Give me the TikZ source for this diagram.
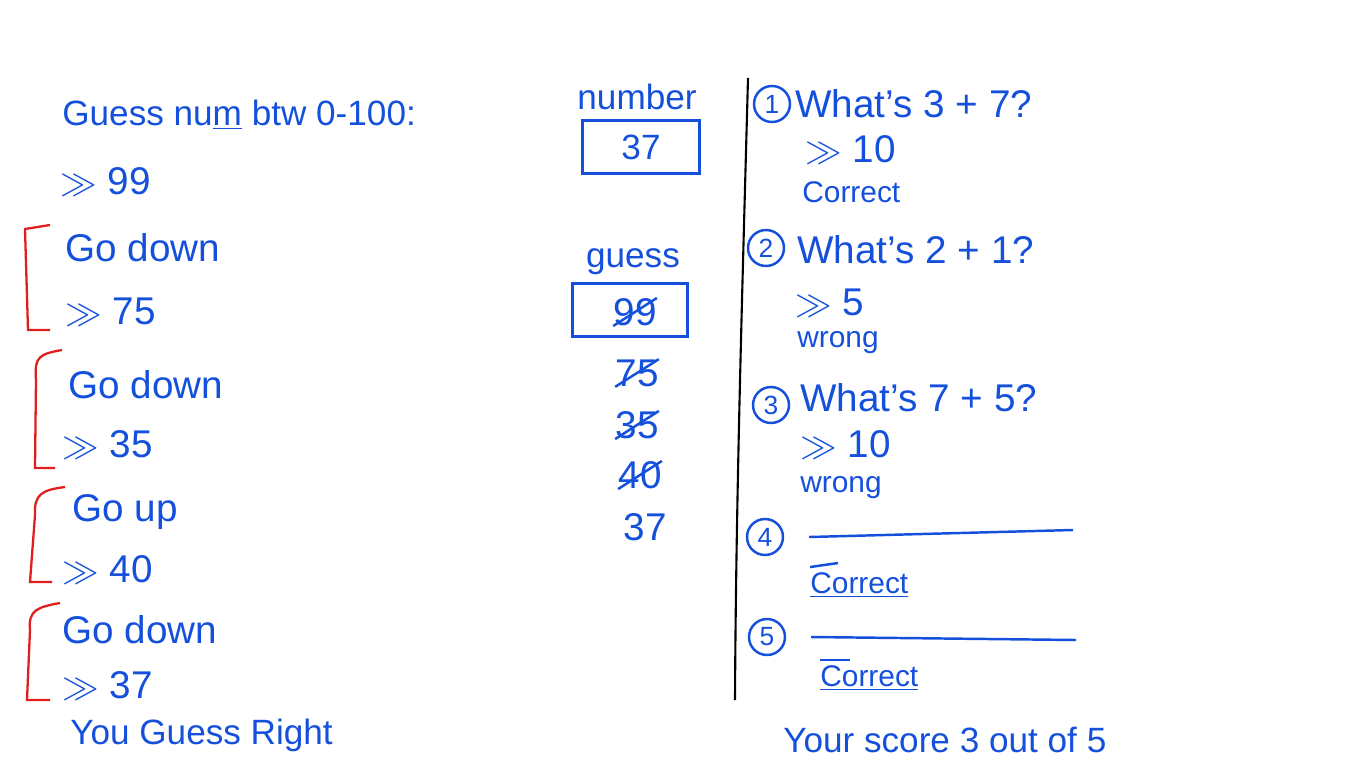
\documentclass[tikz,border=0pt]{standalone}
\usepackage{fontspec}
\setmainfont{Liberation Sans}
\definecolor{pen}{RGB}{20,80,220}
\definecolor{redpen}{RGB}{225,30,30}

\begin{document}
\begin{tikzpicture}[x=0.02cm, y=-0.02cm, txt/.style={text=pen, font=\fontsize{20}{24}\selectfont, anchor=west, inner sep=0pt}, big/.style={txt, font=\fontsize{22}{26}\selectfont}, small/.style={txt, font=\fontsize{17}{20}\selectfont}, box/.style={draw=pen, line width=1.6pt, text=pen, font=\fontsize{20}{24}\selectfont, minimum width=2.34cm, minimum height=1.06cm}, num/.style={draw=pen, circle, line width=1.4pt, text=pen, minimum size=0.72cm, inner sep=0pt, font=\fontsize{15}{17}\selectfont}, brk/.style={draw=redpen, line width=1.3pt}, strike/.style={draw=pen, line width=1.4pt}]
	\useasboundingbox (0,0) rectangle (1366,768);
	% guessing game
	\node[txt] (title) at (62,115) {Guess nu\underline{m} btw 0-100:};
	\node[big] (in1) at (60,182) {$\gg$ 99};
	\node[big] (hint1) at (65,248) {Go down};
	\node[big] (in2) at (65,312) {$\gg$ 75};
	\node[big] (hint2) at (68,385) {Go down};
	\node[big] (in3) at (62,445) {$\gg$ 35};
	\node[big] (hint3) at (72,512) {Go up};
	\node[big] (in4) at (62,570) {$\gg$ 40};
	\node[big] (hint4) at (62,630) {Go down};
	\node[big] (in5) at (62,686) {$\gg$ 37};
	\node[txt] (win) at (70,735) {You Guess Right};
	\draw[brk] (50,225) -- (25,229) -- (28,330) -- (50,330);
	\draw[brk] (62,350) .. controls (40,354) and (34,356) .. (36,380) -- (35,468) -- (55,468);
	\draw[brk] (65,487) .. controls (42,490) and (34,494) .. (35,515) -- (30,582) -- (52,582);
	\draw[brk] (60,603) .. controls (38,607) and (28,610) .. (30,630) -- (27,700) -- (50,700);
	% variables
	\node[txt, anchor=center] (numlbl) at (637,97) {number};
	\node[box] (numbox) at (641,147) {37};
	\node[txt, anchor=center] (guesslbl) at (633,262) {guess};
	\node[box, minimum width=2.3cm] (guessbox) at (630,310) {};
	\node[big, anchor=center] (g99) at (635,312) {99};
	\node[big, anchor=center] (g75) at (637,373) {75};
	\node[big, anchor=center] (g35) at (637,425) {35};
	\node[big, anchor=center] (g40) at (640,475) {40};
	\node[big, anchor=center] (g37) at (645,527) {37};
	\draw[strike] (g99.south west) -- (g99.north east);
	\draw[strike] (g75.south west) -- (g75.north east);
	\draw[strike] (g35.south west) -- (g35.north east);
	\draw[strike] (g40.south west) -- (g40.north east);
	\draw[black, line width=1.2pt] (748,78) .. controls (742,300) and (736,500) .. (735,700);
	% quiz
	\node[num] (q1) at (772,104) {1};
	\node[big] (q1t) at (795,104) {What's 3 + 7?};
	\node[big] (a1) at (805,150) {$\gg$ 10};
	\node[small] (r1) at (802,192) {Correct};
	\node[num] (q2) at (766,248) {2};
	\node[big] (q2t) at (797,250) {What's 2 + 1?};
	\node[big] (a2) at (795,303) {$\gg$ 5};
	\node[small] (r2) at (797,343) {wrong};
	\node[num] (q3) at (771,405) {3};
	\node[big] (q3t) at (800,398) {What's 7 + 5?};
	\node[big] (a3) at (800,445) {$\gg$ 10};
	\node[small] (r3) at (800,488) {wrong};
	\node[num] (q4) at (765,537) {4};
	\coordinate (q4end) at (1073,530);
	\draw[strike] ([xshift=0.5cm]q4.east) -- (q4end);
	\node[small] (r4) at (810,585) {\underline{Correct}};
	\draw[strike] ([yshift=3pt]r4.north west) -- ++(28,-4);
	\node[num] (q5) at (767,637) {5};
	\coordinate (q5end) at (1076,640);
	\draw[strike] ([xshift=0.5cm]q5.east) -- (q5end);
	\node[small] (r5) at (820,678) {\underline{Correct}};
	\draw[strike] ([yshift=3pt]r5.north west) -- ++(30,0);
	\node[txt] (score) at (783,740) {Your score 3 out of 5};
\end{tikzpicture}
\end{document}
